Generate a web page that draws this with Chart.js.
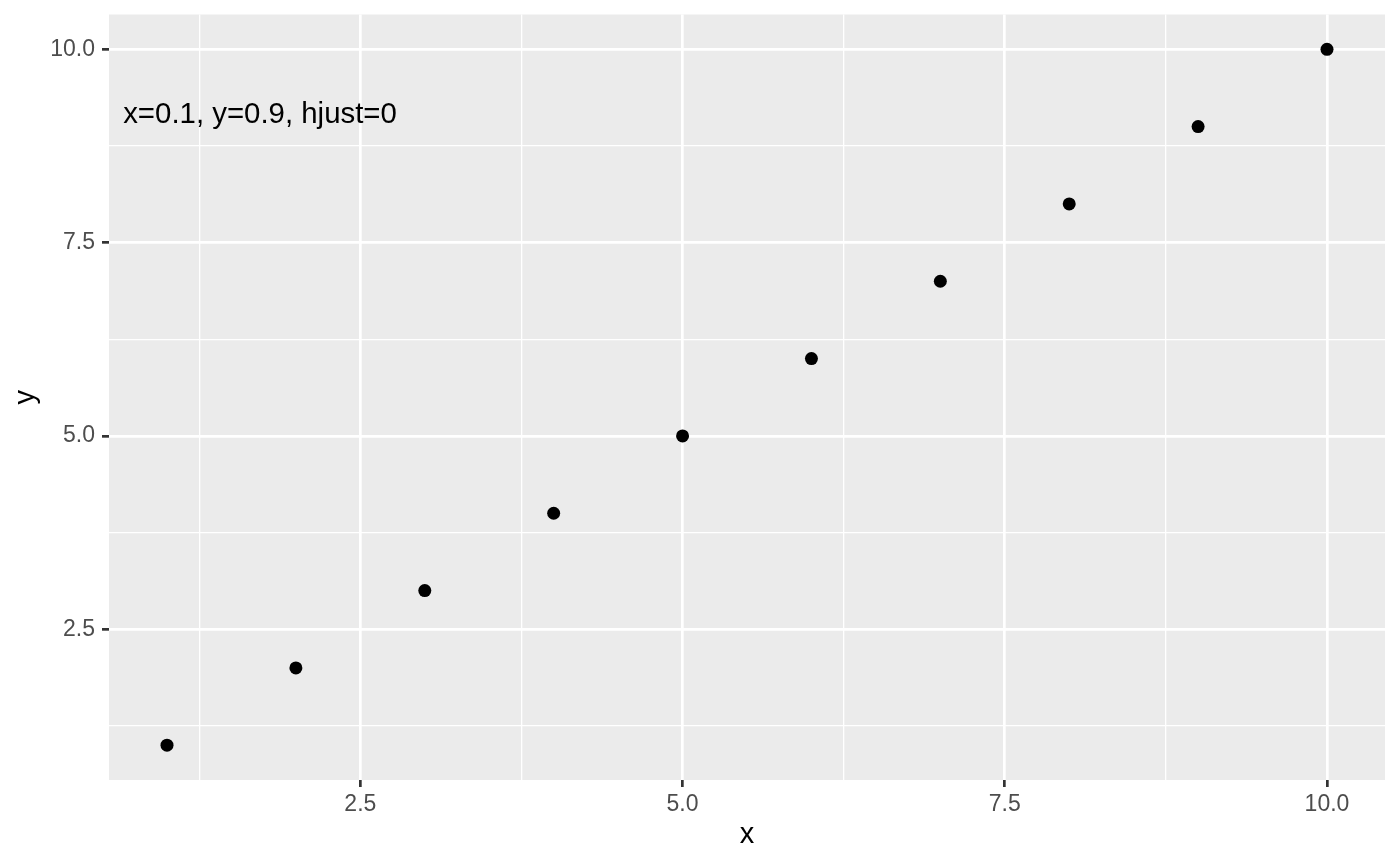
<!DOCTYPE html>
<html>
<head>
<meta charset="utf-8">
<script src="https://cdn.jsdelivr.net/npm/chart.js@4/dist/chart.umd.min.js"></script>
<style>
  html, body { margin: 0; padding: 0; background: #ffffff; }
  #wrap { width: 1400px; height: 866px; }
</style>
</head>
<body>
<div id="wrap"><canvas id="c" width="1400" height="866"></canvas></div>
<script>
// ---- data ----
const xValues = [1, 2, 3, 4, 5, 6, 7, 8, 9, 10];
const yValues = [1, 2, 3, 4, 5, 6, 7, 8, 9, 10];

const xMajorTicks = [2.5, 5, 7.5, 10];
const xMajorLabels = ['2.5', '5.0', '7.5', '10.0'];
const xMinorTicks = [1.25, 3.75, 6.25, 8.75];
const yMajorTicks = [2.5, 5, 7.5, 10];
const yMajorLabels = ['2.5', '5.0', '7.5', '10.0'];
const yMinorTicks = [1.25, 3.75, 6.25, 8.75];

const xRange = [0.55, 10.45];
const yRange = [0.55, 10.45];

const annotationText = ['x=0.1, y=0.9, hjust=0'];
const annotationX = [0.66];
const annotationY = [9.155];

const xTitle = 'x';
const yTitle = 'y';

// ---- styling helpers ----
const FONT = '"Liberation Sans", Arial, Helvetica, sans-serif';
const MAJOR_W = 2.7, MINOR_W = 1.3;

function isMajor(list, v) { return list.some(m => Math.abs(m - v) < 1e-9); }
function labelFor(majors, labels, v) {
  const i = majors.findIndex(m => Math.abs(m - v) < 1e-9);
  return i >= 0 ? labels[i] : '';
}

const panelBg = {
  id: 'panelBg',
  beforeDraw(chart) {
    const { ctx, chartArea: a } = chart;
    ctx.save();
    ctx.fillStyle = '#EBEBEB';
    ctx.fillRect(a.left, a.top, a.right - a.left, a.bottom - a.top);
    ctx.restore();
  }
};

const annotate = {
  id: 'annotate',
  afterDatasetsDraw(chart) {
    const { ctx } = chart;
    const xs = chart.scales.x, ys = chart.scales.y;
    ctx.save();
    ctx.fillStyle = '#000000';
    ctx.font = '29.4px ' + FONT;
    ctx.textAlign = 'left';
    ctx.textBaseline = 'middle';
    annotationText.forEach((t, i) => {
      ctx.fillText(t, xs.getPixelForValue(annotationX[i]), ys.getPixelForValue(annotationY[i]));
    });
    ctx.restore();
  }
};

function axisOpts(majors, labels, minors, range, title, isX) {
  return {
    type: 'linear',
    position: isX ? 'bottom' : 'left',
    min: range[0],
    max: range[1],
    afterBuildTicks(scale) {
      const all = majors.concat(minors).sort((a, b) => a - b);
      scale.ticks = all.map(v => ({ value: v }));
    },
    afterFit(scale) {
      if (isX) scale.height = 86; else scale.width = 109;
      scale.paddingTop = 0; scale.paddingBottom = 0;
      scale.paddingLeft = 0; scale.paddingRight = 0;
    },
    border: { display: false },
    grid: {
      drawOnChartArea: true,
      drawTicks: true,
      tickLength: 7,
      color: '#FFFFFF',
      lineWidth: (ctx) => (ctx.tick && isMajor(majors, ctx.tick.value)) ? MAJOR_W : MINOR_W,
      tickColor: (ctx) => (ctx.tick && isMajor(majors, ctx.tick.value)) ? '#333333' : 'rgba(0,0,0,0)',
      tickWidth: MAJOR_W
    },
    ticks: {
      autoSkip: false,
      maxRotation: 0,
      minRotation: 0,
      padding: isX ? 4 : 7,
      color: '#4D4D4D',
      font: { family: FONT, size: 23 },
      callback: (v) => labelFor(majors, labels, v)
    },
    title: {
      display: true,
      text: title,
      color: '#000000',
      font: { family: FONT, size: 29 },
      padding: isX ? { top: 0, bottom: 13.5 } : { top: 9, bottom: 0 }
    }
  };
}

new Chart(document.getElementById('c'), {
  type: 'scatter',
  data: {
    datasets: [{
      data: xValues.map((x, i) => ({ x: x, y: yValues[i] })),
      pointRadius: 6.5,
      pointHoverRadius: 6.5,
      backgroundColor: '#000000',
      borderWidth: 0
    }]
  },
  options: {
    responsive: false,
    animation: false,
    events: [],
    layout: { padding: { top: 14.5, right: 15, left: 0, bottom: 0 } },
    plugins: {
      legend: { display: false },
      tooltip: { enabled: false }
    },
    scales: {
      x: axisOpts(xMajorTicks, xMajorLabels, xMinorTicks, xRange, xTitle, true),
      y: axisOpts(yMajorTicks, yMajorLabels, yMinorTicks, yRange, yTitle, false)
    }
  },
  plugins: [panelBg, annotate]
});
</script>
</body>
</html>
